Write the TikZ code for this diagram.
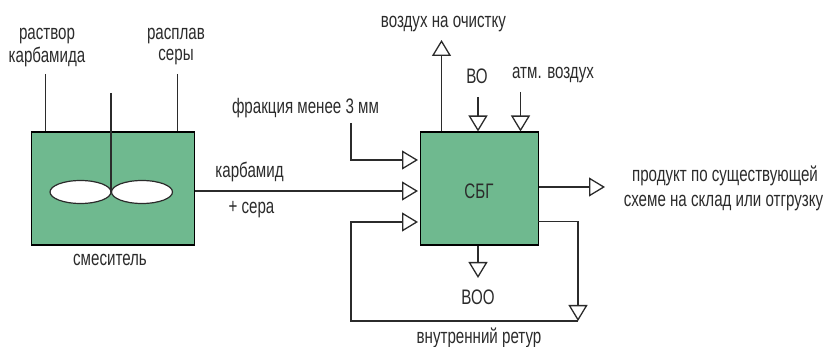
\documentclass[tikz,border=0pt]{standalone}
\usepackage{fontspec}
\usetikzlibrary{arrows.meta,shapes.geometric}
\setmainfont[FakeStretch=0.72]{Liberation Sans}
\definecolor{boxgreen}{HTML}{6FB98F}
\definecolor{ink}{HTML}{2B2B2B}
\tikzset{
  vessel/.style={draw=black,line width=1.3pt,fill=boxgreen,inner sep=0pt,anchor=north west},
  pipe/.style={draw=ink,line width=1.3pt},
  flow/.style={pipe,-{Triangle[open,length=16pt,width=19pt,line width=1.3pt]}},
  lbl/.style={text=ink,font=\fontsize{21}{24}\selectfont,inner sep=0pt,align=center},
  blade/.style={draw=ink,line width=1.2pt,fill=white,ellipse,minimum width=61pt,minimum height=23pt,inner sep=0pt}
}
\begin{document}
\begin{tikzpicture}[x=1pt,y=-1pt]
\useasboundingbox (0,0) rectangle (825,347);
% vessels
\node[vessel,minimum width=163pt,minimum height=113pt] (mix) at (30.5,131.5) {};
\node[vessel,minimum width=117.5pt,minimum height=113pt] (sbg) at (420,131.5) {};
\node[lbl] (sbgt) at (479,191) {СБГ};
% mixer internals
\node[blade] (bl) at (80.5,192) {};
\node[blade] (br) at (142,192) {};
\coordinate (shafttop) at (111,93);
\coordinate (shaftend) at (111,192);
\draw[pipe] (shafttop) -- (shaftend);
% mixer feeds
\coordinate (f1) at (45.5,74);
\coordinate (f2) at (177.5,74);
\draw[pipe] (f1) -- (f1 |- mix.north);
\draw[pipe] (f2) -- (f2 |- mix.north);
% labels
\node[lbl] (t1) at (47,36) {раствор};
\node[lbl] (t2) at (47,57) {карбамида};
\node[lbl] (t3) at (176,36) {расплав};
\node[lbl] (t4) at (176,57) {серы};
\node[lbl] (t5) at (305.5,108) {фракция менее 3 мм};
\node[lbl] (t6) at (249.5,172) {карбамид};
\node[lbl] (t7) at (251.5,210) {+ сера};
\node[lbl] (t8) at (110,260) {смеситель};
\node[lbl] (t9) at (443.5,24) {воздух на очистку};
\node[lbl] (t10) at (477,76) {ВО};
\node[lbl] (t11) at (553,75) {атм. воздух};
\node[lbl] (t12) at (478,297) {ВОО};
\node[lbl] (t13) at (479,338) {внутренний ретур};
\node[lbl] (t14) at (725,176) {продукт по существующей};
\node[lbl] (t15) at (723.5,203) {схеме на склад или отгрузку};
% connectors
\coordinate (a1) at (351,123);
\coordinate (a2) at (351,160);
\coordinate (a3) at (418,160);
\draw[flow] (a1) -- (a2) -- (a3);
\coordinate (m1) at (418,191);
\draw[flow] (mix.east |- m1) -- (m1);
\coordinate (up) at (441.5,40);
\draw[flow] (up |- sbg.north) -- (up);
\coordinate (b1) at (478,97);
\draw[flow] (b1) -- (b1 |- sbg.north);
\coordinate (b2) at (520.5,92);
\draw[flow] (b2) -- (b2 |- sbg.north);
\coordinate (r1) at (605,187);
\draw[flow] (sbg.east |- r1) -- (r1);
\coordinate (d1) at (478,278);
\draw[flow] (d1 |- sbg.south) -- (d1);
% internal return
\coordinate (ret0) at (538,221.5);
\coordinate (ret1) at (578,221.5);
\coordinate (ret2) at (578,321);
\coordinate (ret3) at (351,321);
\coordinate (ret4) at (351,222);
\coordinate (ret5) at (418,222);
\draw[flow] (ret0) -- (ret1) -- (ret2);
\draw[flow] (ret2) -- (ret3) -- (ret4) -- (ret5);
\end{tikzpicture}
\end{document}
